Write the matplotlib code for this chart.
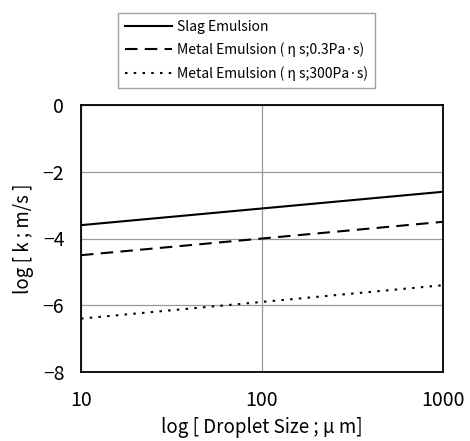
import matplotlib
matplotlib.use("Agg")
import matplotlib.pyplot as plt

plt.rcParams['font.family'] = ['Noto Sans CJK JP', 'DejaVu Sans']

droplet_size = [10, 100, 1000]
slag = [-3.6, -3.1, -2.6]
metal_low = [-4.5, -4.0, -3.5]
metal_high = [-6.4, -5.9, -5.4]
labels = ["Slag Emulsion",
          "Metal Emulsion ( \u03b7 s;0.3Pa\u00b7s)",
          "Metal Emulsion ( \u03b7 s;300Pa\u00b7s)"]
xticks = [10, 100, 1000]
yticks = [0, -2, -4, -6, -8]

fig = plt.figure(figsize=(4.70, 4.41), dpi=100)
ax = fig.add_axes([81/470, 1-372/441, (443-81)/470, (372-105)/441])

ax.plot(droplet_size, slag, color='black', lw=1.5, linestyle='-', label=labels[0])
ax.plot(droplet_size, metal_low, color='black', lw=1.5, linestyle=(0, (6, 3.5)), label=labels[1])
ax.plot(droplet_size, metal_high, color='black', lw=1.5, linestyle=(0, (1.2, 3)), label=labels[2])

ax.set_xscale('log')
ax.set_xlim(10, 1000)
ax.set_ylim(-8, 0)
ax.set_xticks(xticks)
ax.set_xticklabels([str(v) for v in xticks])
ax.set_yticks(yticks)
ax.set_yticklabels([str(v).replace('-', '\u2212') for v in yticks])
ax.minorticks_off()
ax.tick_params(length=0, labelsize=14, pad=13)
ax.tick_params(axis='y', pad=12)
ax.grid(True, color='#999999', lw=0.9)
ax.set_axisbelow(True)
for s in ax.spines.values():
    s.set_linewidth(1.3)

ax.set_xlabel("log [ Droplet Size ; \u03bc m]", fontsize=13.5, labelpad=4)
ax.set_ylabel("log [ k ; m/s ]", fontsize=13.5, labelpad=6)

leg = fig.legend(loc='upper left', bbox_to_anchor=(118/470, 1-13/441),
                 frameon=True, fancybox=False, edgecolor='#888888',
                 fontsize=10, handlelength=3.4, handletextpad=0.35,
                 borderpad=0.5, labelspacing=0.62, borderaxespad=0)
leg.get_frame().set_linewidth(1.0)

fig.savefig("out.png", dpi=100)
